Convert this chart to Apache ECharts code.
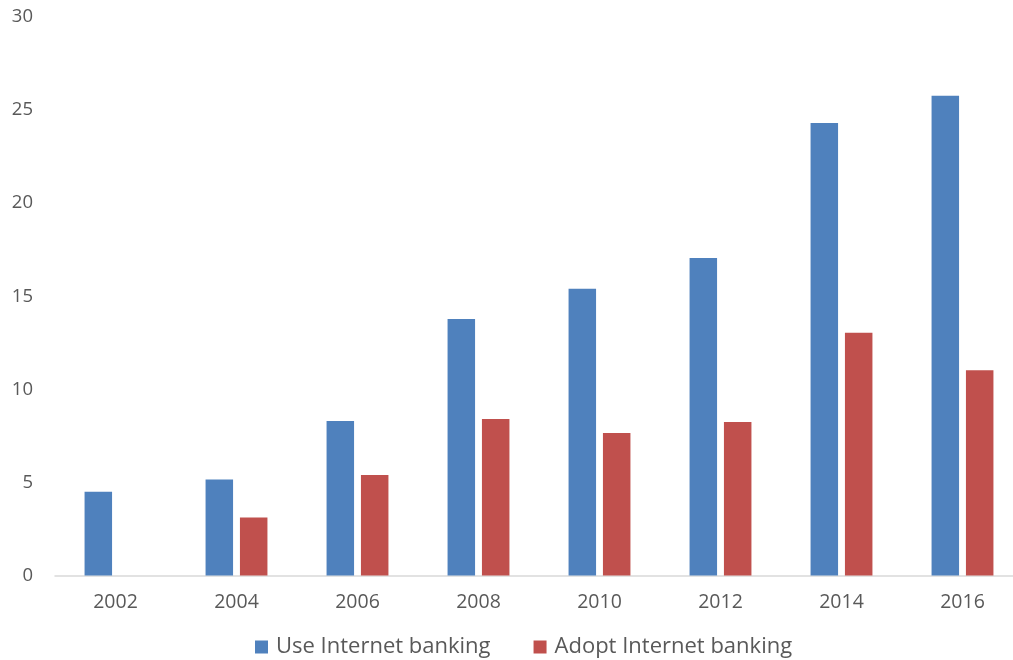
<!DOCTYPE html>
<html>
<head>
<meta charset="utf-8">
<script src="https://cdn.jsdelivr.net/npm/echarts@6/dist/echarts.min.js"></script>
<style>html,body{margin:0;padding:0;background:#fff;overflow:hidden;}#c{width:1030px;height:660px;}</style>
</head>
<body>
<div id="c"></div>
<script>
const categories = ['2002','2004','2006','2008','2010','2012','2014','2016'];
const useBanking = [4.5, 5.15, 8.3, 13.78, 15.4, 17.05, 24.3, 25.77];
const adoptBanking = [null, 3.12, 5.4, 8.4, 7.65, 8.24, 13.04, 11.02];
const yTicks = [0, 5, 10, 15, 20, 25, 30];

const FONT = '"Open Sans", "Noto Sans", sans-serif';
const chart = echarts.init(document.getElementById('c'), null, {renderer: 'canvas'});
chart.setOption({
  animation: false,
  backgroundColor: '#ffffff',
  grid: {left: 55, top: 17, width: 968, height: 558.5, containLabel: false},
  xAxis: {
    type: 'category',
    data: categories,
    axisLine: {lineStyle: {color: '#D9D9D9', width: 1.5}},
    axisTick: {show: false},
    axisLabel: {color: '#595959', fontSize: 19.5, fontFamily: FONT, margin: 17}
  },
  yAxis: {
    type: 'value',
    min: yTicks[0], max: yTicks[yTicks.length - 1], interval: 5,
    axisLine: {show: false},
    axisTick: {show: false},
    splitLine: {show: false},
    axisLabel: {color: '#595959', fontSize: 18.5, fontFamily: FONT, margin: 22}
  },
  legend: {
    left: 255, top: 636, padding: 0,
    itemWidth: 13, itemHeight: 13, itemGap: 43,
    icon: 'rect',
    textStyle: {color: '#595959', fontSize: 22, fontFamily: FONT, padding: [0, 0, 0, 3]}
  },
  series: [
    {name: 'Use Internet banking', type: 'bar', data: useBanking, barWidth: 27.5, barGap: '25%',
     itemStyle: {color: '#4F81BD'}},
    {name: 'Adopt Internet banking', type: 'bar', data: adoptBanking, barWidth: 27.5, barGap: '25%',
     itemStyle: {color: '#C0504D'}}
  ]
});
</script>
</body>
</html>
